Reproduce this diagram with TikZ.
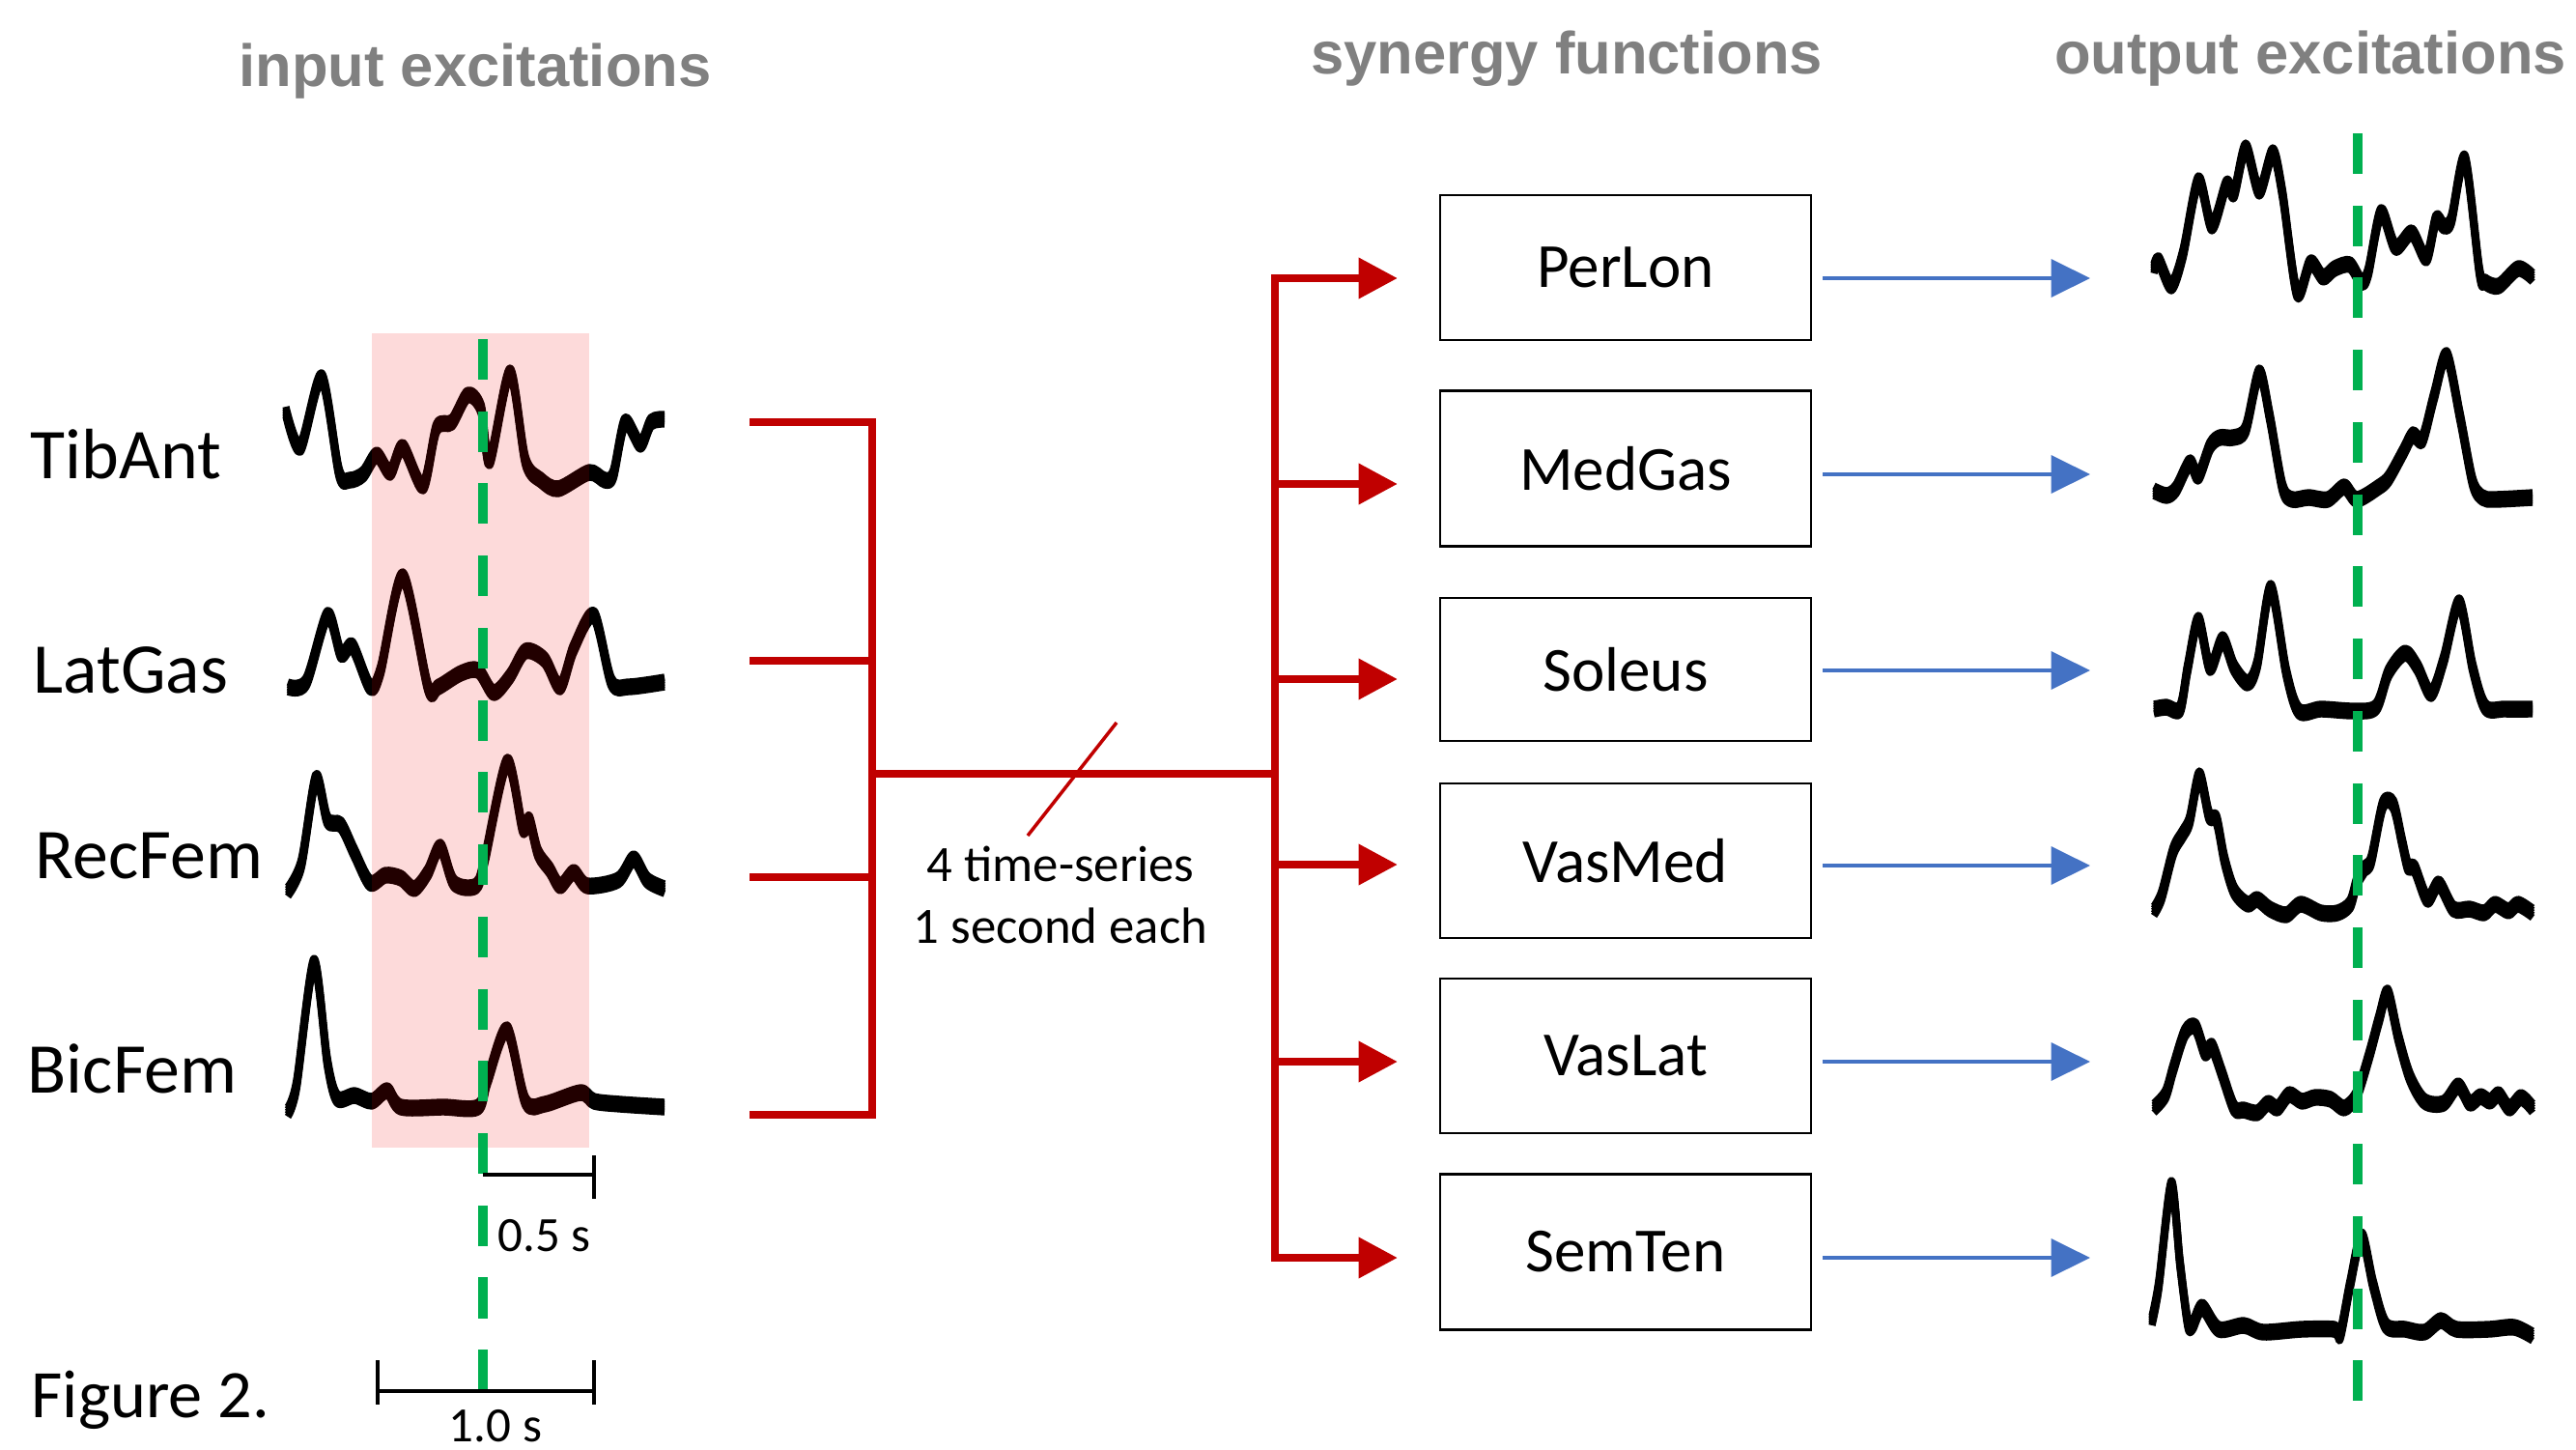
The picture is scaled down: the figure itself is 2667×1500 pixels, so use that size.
\documentclass[tikz,border=0pt]{standalone}
\usepackage{fontspec}
\setmainfont{Carlito}
\newfontfamily\headfont{Liberation Sans}
\usetikzlibrary{arrows.meta}
\definecolor{darkred}{RGB}{192,0,0}
\definecolor{offblue}{RGB}{68,114,196}
\definecolor{offgreen}{RGB}{0,176,80}
\definecolor{headgray}{RGB}{128,128,128}
\definecolor{pinkred}{RGB}{240,0,0}
\newcommand{\emgtrace}[1]{\foreach \dd in {-5,-2.5,0,2.5,5}{\draw[sig,yshift=\dd*0.01cm] plot[smooth,tension=0.5] coordinates {#1};}}
\begin{document}
\begin{tikzpicture}[x=0.01cm,y=-0.01cm,
  sig/.style={line width=2.1pt, line join=round, black},
  redline/.style={darkred, line width=2.5pt},
  redarrow/.style={redline, -{Triangle[length=11.5pt,width=11.5pt]}},
  bluearrow/.style={offblue, line width=1.4pt, -{Triangle[length=11.5pt,width=11pt]}},
  greendash/.style={offgreen, line width=2.6pt, dash pattern=on 11.95pt off 9.3pt},
  syn/.style={draw, line width=0.75pt, minimum width=3.84cm, inner sep=0pt, font=\fontsize{18.5}{22}\selectfont},
  muscle/.style={anchor=base west, inner sep=0pt, font=\fontsize{21}{25}\selectfont},
  head/.style={anchor=base, inner sep=0pt, text=headgray, font=\headfont\bfseries\fontsize{17.5}{21}\selectfont},
  scalebar/.style={line width=1.4pt, black},
  small/.style={inner sep=0pt, font=\fontsize{14.5}{18}\selectfont},
  note/.style={anchor=base, inner sep=0pt, font=\fontsize{15}{18}\selectfont}
]
\useasboundingbox (0,0) rectangle (2667,1500);

% titles
\node[head] (tin) at (492,90) {input excitations};
\node[head] (tsyn) at (1622,77) {synergy functions};
\node[head] (tout) at (2392,77) {output excitations};

% muscle labels
\node[muscle] (lTA) at (31,495) {TibAnt};
\node[muscle] (lLG) at (34,717) {LatGas};
\node[muscle] (lRF) at (36,909) {RecFem};
\node[muscle] (lBF) at (28,1131) {BicFem};
\node[muscle, font=\fontsize{20}{24}\selectfont] (fig) at (32,1467) {Figure 2.};

% input signals
\emgtrace{(296,426) (311,463) (333,391) (351,489) (362,497) (376,491) (390,471) (404,489) (417,463) (438,503) (452,443) (468,437) (484,409) (498,423) (507,477) (528,386) (544,477) (560,497) (578,506) (610,489) (626,497) (635,491) (647,437) (663,460) (674,437) (688,434)}
\emgtrace{(298,711) (317,706) (339,637) (353,677) (365,669) (383,711) (394,694) (417,597) (443,711) (454,711) (477,697) (495,694) (511,717) (528,700) (544,674) (564,683) (580,711) (594,671) (615,637) (633,706) (651,711) (688,706)}
\emgtrace{(298,923) (312,894) (327,806) (339,849) (353,854) (367,883) (383,914) (399,906) (415,909) (429,920) (443,903) (456,877) (470,914) (493,917) (502,889) (525,789) (541,857) (548,849) (557,883) (569,900) (580,917) (594,903) (608,917) (640,911) (656,889) (670,911) (688,920)}
\emgtrace{(298,1151) (307,1123) (325,997) (339,1100) (349,1137) (367,1134) (385,1140) (401,1129) (415,1146) (459,1146) (495,1146) (505,1117) (525,1066) (544,1140) (564,1143) (601,1131) (615,1140) (642,1143) (688,1146)}

% pink window overlay
\fill[pinkred, fill opacity=0.145] (385,345) rectangle (610,1188);

% output signals
\emgtrace{(2230,278) (2235,270) (2248,296) (2260,263) (2276,187) (2290,234) (2305,191) (2313,200) (2325,153) (2339,198) (2353,158) (2363,200) (2378,303) (2392,272) (2405,287) (2417,278) (2433,274) (2445,292) (2452,281) (2465,220) (2480,256) (2497,241) (2512,267) (2522,227) (2530,234) (2538,227) (2552,165) (2567,281) (2573,292) (2587,296) (2607,278) (2622,287)}
\emgtrace{(2230,508) (2243,513) (2253,506) (2267,479) (2276,493) (2288,462) (2298,453) (2312,453) (2325,444) (2339,386) (2350,432) (2363,504) (2373,517) (2390,515) (2410,517) (2427,504) (2440,517) (2463,504) (2473,495) (2488,468) (2498,450) (2508,455) (2520,410) (2533,368) (2547,432) (2560,499) (2570,515) (2583,517) (2622,515)}
\emgtrace{(2230,734) (2243,732) (2257,734) (2265,691) (2276,642) (2288,691) (2301,662) (2313,691) (2327,707) (2337,687) (2351,609) (2367,696) (2380,736) (2403,734) (2437,736) (2460,732) (2473,696) (2490,676) (2503,691) (2517,718) (2530,683) (2546,624) (2560,691) (2573,732) (2593,734) (2622,734)}
\emgtrace{(2230,943) (2238,927) (2250,881) (2260,863) (2267,849) (2277,803) (2287,844) (2295,849) (2303,890) (2313,922) (2327,936) (2337,931) (2350,941) (2367,947) (2382,936) (2403,945) (2420,945) (2433,936) (2440,913) (2448,899) (2455,890) (2467,833) (2478,833) (2487,872) (2493,897) (2500,899) (2513,931) (2525,915) (2540,941) (2557,941) (2572,945) (2583,936) (2597,943) (2607,936) (2622,945)}
\emgtrace{(2230,1147) (2242,1133) (2250,1106) (2262,1069) (2273,1063) (2283,1090) (2290,1083) (2300,1110) (2313,1147) (2323,1149) (2337,1152) (2348,1142) (2358,1147) (2370,1133) (2383,1140) (2397,1136) (2413,1138) (2427,1147) (2440,1133) (2453,1092) (2463,1055) (2472,1028) (2483,1074) (2495,1115) (2510,1140) (2530,1142) (2545,1124) (2557,1142) (2568,1135) (2578,1140) (2587,1133) (2598,1147) (2610,1136) (2622,1147)}
\emgtrace{(2228,1367) (2235,1330) (2248,1227) (2257,1308) (2265,1369) (2270,1372) (2280,1353) (2297,1376) (2323,1372) (2343,1379) (2383,1376) (2417,1376) (2423,1381) (2433,1330) (2445,1280) (2457,1330) (2470,1372) (2490,1376) (2510,1379) (2527,1367) (2543,1376) (2577,1376) (2603,1374) (2622,1383)}

% green time markers
\coordinate (gi1) at (500,351);
\coordinate (gi2) at (500,1440);
\coordinate (go1) at (2441,138);
\coordinate (go2) at (2441,1452);
\draw[greendash] (gi1) -- (gi2);
\draw[greendash] (go1) -- (go2);

% scale bars
\coordinate (h1a) at (500,1216);
\coordinate (h1b) at (615,1216);
\coordinate (h1t) at (615,1196);
\coordinate (h1u) at (615,1241);
\draw[scalebar] (h1a) -- (h1b);
\draw[scalebar] (h1t) -- (h1u);
\node[small, anchor=base west] (l05) at (515,1295) {0.5 s};
\coordinate (h2a) at (391,1440);
\coordinate (h2b) at (615,1440);
\coordinate (h2t) at (391,1408);
\coordinate (h2u) at (391,1454);
\coordinate (h2v) at (615,1408);
\coordinate (h2w) at (615,1454);
\draw[scalebar] (h2a) -- (h2b);
\draw[scalebar] (h2t) -- (h2u);
\draw[scalebar] (h2v) -- (h2w);
\node[small, anchor=base] (l10) at (513,1492) {1.0 s};

% red input bus
\coordinate (s1) at (776,437);
\coordinate (s2) at (776,684);
\coordinate (s3) at (776,908);
\coordinate (s4) at (776,1154);
\coordinate (j1) at (903,437);
\coordinate (j2) at (903,684);
\coordinate (j3) at (903,908);
\coordinate (j4) at (903,1154);
\coordinate (jm) at (903,801);
\coordinate (rm) at (1320,801);
\draw[redline, line join=miter] (s1) -- (j1) -- (j4) -- (s4);
\draw[redline] (s2) -- (j2);
\draw[redline] (s3) -- (j3);
\draw[redline] (jm) -- (rm);
\coordinate (sl1) at (1064,865);
\coordinate (sl2) at (1156,748);
\draw[darkred, line width=1pt] (sl1) -- (sl2);
\node[note] (n1) at (1098,912) {4 time-series};
\node[note] (n2) at (1098,976) {1 second each};

% synergy boxes
\node[syn, minimum height=1.50cm] (b1) at (1683,277) {PerLon};
\node[syn, minimum height=1.61cm] (b2) at (1683,485) {MedGas};
\node[syn, minimum height=1.48cm] (b3) at (1683,693) {Soleus};
\node[syn, minimum height=1.60cm] (b4) at (1683,891) {VasMed};
\node[syn, minimum height=1.60cm] (b5) at (1683,1093) {VasLat};
\node[syn, minimum height=1.61cm] (b6) at (1683,1296) {SemTen};

% red distribution bus and arrows
\coordinate (rv1) at (1320,288);
\coordinate (rv2) at (1320,501);
\coordinate (rv3) at (1320,703);
\coordinate (rv4) at (1320,895);
\coordinate (rv5) at (1320,1099);
\coordinate (rv6) at (1320,1302);
\draw[redline, line cap=rect] (rv1) -- (rv6);
\foreach \i/\yy in {1/288,2/501,3/703,4/895,5/1099,6/1302}{
  \coordinate (ra\i) at (1447,\yy);
  \draw[redarrow] (rv\i) -- (ra\i);
}

% blue output arrows
\foreach \i/\yy in {1/288,2/491,3/694,4/896,5/1099,6/1302}{
  \coordinate (be\i) at (2164,\yy);
  \draw[bluearrow, shorten <=3pt] (b\i.east |- be\i) -- (be\i);
}
\end{tikzpicture}
\end{document}
